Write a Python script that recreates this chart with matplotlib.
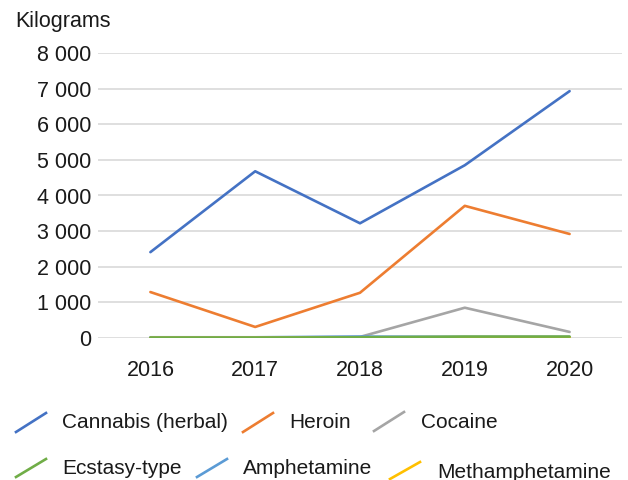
import matplotlib
matplotlib.use("Agg")
import matplotlib.pyplot as plt
from matplotlib.lines import Line2D

plt.rcParams['font.family'] = ['Liberation Sans', 'DejaVu Sans']

years = ["2016", "2017", "2018", "2019", "2020"]
cannabis = [2410, 4680, 3220, 4850, 6930]
heroin = [1290, 310, 1270, 3710, 2920]
cocaine = [10, 10, 30, 850, 170]
ecstasy = [10, 10, 20, 40, 40]
amphetamine = [20, 20, 40, 30, 30]
methamphetamine = [5, 5, 10, 10, 20]

series_names = ["Cannabis (herbal)", "Heroin", "Cocaine",
                "Ecstasy-type", "Amphetamine", "Methamphetamine"]
series_values = [cannabis, heroin, cocaine, ecstasy, amphetamine, methamphetamine]
colors = ["#4472C4", "#ED7D31", "#A5A5A5", "#70AD47", "#5B9BD5", "#FFC000"]
zorders = [3, 3, 3, 5, 4, 4]

fig = plt.figure(figsize=(6.28, 4.8), dpi=100)
ax = fig.add_axes([98/628, 1 - 338/480, (622-98)/628, (338-53)/480])

x = list(range(len(years)))
for name, vals, c, z in zip(series_names, series_values, colors, zorders):
    ax.plot(x, vals, color=c, lw=1.9, zorder=z, solid_capstyle='round')

ax.set_xlim(-0.5, len(years) - 0.5)
ax.set_ylim(0, 8000)
ax.set_yticks(range(0, 8001, 1000))
ax.set_yticklabels([f"{v:,}".replace(",", " ") for v in range(0, 8001, 1000)])
ax.set_xticks(x)
ax.set_xticklabels(years)
ax.tick_params(axis='both', length=0, labelsize=15.5, colors='#1a1a1a')
ax.tick_params(axis='y', pad=5)
ax.tick_params(axis='x', pad=16)
ax.grid(axis='y', color='#D9D9D9', lw=1.2)
ax.set_axisbelow(True)
for s in ax.spines.values():
    s.set_visible(False)

fig.text(15/628, 1 - 21/480, "Kilograms", fontsize=15.5, va='center', ha='left',
         color='#1a1a1a')

# legend with diagonal handles: (handle x, handle bottom y, handle top y, text x, text y)
positions = [(16, 432, 413, 62, 422), (243, 432, 413, 289, 422),
             (374, 431, 412, 421, 422), (16, 477, 459, 62, 469),
             (197, 477, 459, 243, 469), (390, 479, 462, 437, 472)]
for (hx, yb, yt, tx, ty), name, c in zip(positions, series_names, colors):
    fig.add_artist(Line2D([hx / 628, (hx + 30) / 628],
                          [1 - yb / 480, 1 - yt / 480], color=c, lw=1.9,
                          transform=fig.transFigure))
    fig.text(tx / 628, 1 - ty / 480, name, fontsize=15, va='center', ha='left',
             color='#1a1a1a')

fig.savefig("out.png", dpi=100)
